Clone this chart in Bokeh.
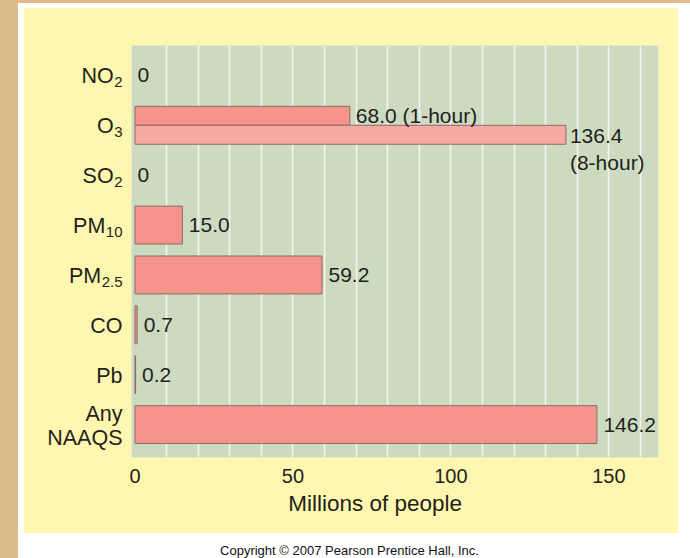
from bokeh.plotting import figure
from bokeh.models import Range1d, FixedTicker, ColumnDataSource, Div, Spacer
from bokeh.layouts import row, column
from bokeh.embed import file_html
from bokeh.resources import INLINE
from bokeh.core.properties import value

# ---- data ----
pollutant_main = ["NO", "O", "SO", "PM", "PM", "CO", "Pb", "Any\nNAAQS"]
pollutant_sub = ["2", "3", "2", "10", "2.5", "", "", ""]
people = [0, None, 0, 15.0, 59.2, 0.7, 0.2, 146.2]   # O3 given separately
o3_periods = ["1-hour", "8-hour"]
o3_people = [68.0, 136.4]
x_ticks = [0, 50, 100, 150]
x_label = "Millions of people"
copyright_text = "Copyright © 2007 Pearson Prentice Hall, Inc."

# ---- style ----
FONT = "Liberation Sans"
TXT = "#231f20"
SALMON = "#f4948a"
SALMON_LIGHT = "#f6aaa2"
EDGE = "#8e6b66"
GREEN = "#ccdabf"
YELLOW = "#fff7b0"
TAN = "#debb8a"
GRID = "#f3f4ec"
MAIN_PX = 21.5
VAL_PX = 21
SUB_PX = 15

n = len(pollutant_main)
o3_idx = 1
X0 = -1.1

p = figure(width=655, height=526,
           x_range=Range1d(X0, 165.7), y_range=Range1d(n - 1 + 0.66, -0.6),
           output_backend="svg", toolbar_location=None,
           min_border_left=108, min_border_right=20,
           min_border_top=38, min_border_bottom=76,
           background_fill_color=GREEN, border_fill_color=YELLOW,
           outline_line_color=None)

# grid
p.ygrid.grid_line_color = None
p.xgrid.ticker = FixedTicker(ticks=list(range(10, 170, 10)))
p.xgrid.grid_line_color = GRID
p.xgrid.grid_line_width = 1.6

# x axis
xa = p.xaxis[0]
xa.ticker = FixedTicker(ticks=x_ticks)
xa.axis_line_color = None
xa.major_tick_line_color = None
xa.minor_tick_line_color = None
xa.major_label_text_font = FONT
xa.major_label_text_font_size = "20px"
xa.major_label_text_color = TXT
xa.major_label_standoff = 5

# y axis (labels drawn as text so subscripts can be shown)
ya = p.yaxis[0]
ya.ticker = FixedTicker(ticks=list(range(n)))
ya.major_label_overrides = {i: "" for i in range(n)}
ya.axis_line_color = None
ya.major_tick_line_color = None
ya.minor_tick_line_color = None

# single bars
ys, xs, labels, offs = [], [], [], []
for i, v in enumerate(people):
    if v is None:
        continue
    ys.append(i)
    xs.append(v)
    labels.append("0" if v == 0 else f"{v:.1f}")
    offs.append(2.5 if v == 0 else 6.5)
src = ColumnDataSource(dict(y=ys, x=xs, label=labels, xo=offs))
bar_src = ColumnDataSource(dict(y=[y for y, x in zip(ys, xs) if x > 0],
                                x=[x for x in xs if x > 0]))
p.hbar(y="y", left=0, right="x", height=0.76, source=bar_src,
       fill_color=SALMON, line_color=EDGE, line_width=1)
p.text(x="x", y="y", text="label", source=src, x_offset="xo",
       text_baseline="middle", text_align="left",
       text_font=value(FONT), text_font_size=f"{VAL_PX}px", text_color=TXT)

# O3 paired bars
o3_src = ColumnDataSource(dict(y=[o3_idx - 0.19, o3_idx + 0.19], x=o3_people,
                               c=[SALMON, SALMON_LIGHT]))
p.hbar(y="y", left=0, right="x", height=0.38, source=o3_src,
       fill_color="c", line_color=EDGE, line_width=1)
p.text(x=[o3_people[0]], y=[o3_idx - 0.19],
       text=[f"{o3_people[0]:.1f} ({o3_periods[0]})"], x_offset=6,
       text_baseline="middle", text_align="left",
       text_font=value(FONT), text_font_size=f"{VAL_PX}px", text_color=TXT)
p.text(x=[o3_people[1]], y=[o3_idx + 0.19],
       text=[f"{o3_people[1]:.1f}\n({o3_periods[1]})"], x_offset=4, y_offset=-11,
       text_baseline="top", text_align="left",
       text_font=value(FONT), text_font_size=f"{VAL_PX}px", text_color=TXT)

# category labels with subscripts (outside the frame -> overlay level)
def sub_width(s):
    return sum((0.278 if ch == "." else 0.556) for ch in s) * SUB_PX

RIGHT = -9
main_off = [RIGHT - (sub_width(s) + 0.5 if s else 0) for s in pollutant_sub]
lab_src = ColumnDataSource(dict(x=[X0] * n, y=list(range(n)), main=pollutant_main,
                                sub=pollutant_sub, xo=main_off))
p.text(x="x", y="y", text="main", source=lab_src, x_offset="xo", y_offset=1,
       text_baseline="middle", text_align="right", text_line_height=1.0,
       text_font=value(FONT), text_font_size=f"{MAIN_PX}px", text_color=TXT,
       level="overlay")
p.text(x="x", y="y", text="sub", source=lab_src, x_offset=RIGHT, y_offset=7,
       text_baseline="middle", text_align="right",
       text_font=value(FONT), text_font_size=f"{SUB_PX}px", text_color=TXT,
       level="overlay")

# x axis title (placed like the original, slightly left of centre)
p.text(x=[76], y=[n - 1 + 0.66], text=[x_label], y_offset=46,
       text_baseline="middle", text_align="center",
       text_font=value(FONT), text_font_size="22.5px", text_color=TXT,
       level="overlay")

top_line = Spacer(width=690, height=3, styles={"background-color": TAN})
tan = Spacer(width=18, height=555, styles={"background-color": TAN})
gap = Spacer(width=5, height=555)
top_gap = Spacer(width=655, height=4)
foot = Div(text=f'<div style="width:623px;text-align:center;font-family:{FONT};'
                f'font-size:13px;line-height:14px;color:#111;padding-top:6px;'
                f'padding-left:20px">{copyright_text}</div>', width=655, height=24)

layout = column(top_line, row(tan, gap, column(top_gap, p, foot)))

open("out.html", "w").write(file_html(layout, INLINE))
